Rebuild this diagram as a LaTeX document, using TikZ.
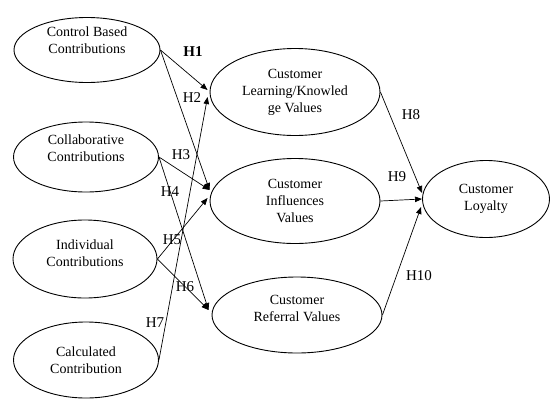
\documentclass[tikz,border=0pt]{standalone}
\usepackage{fontspec}
\setmainfont{Liberation Serif}
\usetikzlibrary{arrows.meta,shapes.geometric,calc}

% text sits a little above the middle of some ellipses
\newcommand{\upby}[2]{\raisebox{#1}[\height][\depth]{\begin{tabular}{@{}c@{}}#2\end{tabular}}}

\begin{document}
\begin{tikzpicture}[x=1pt, y=-1pt, >={Triangle[length=7pt,width=5.5pt]},
  construct/.style={draw, ellipse, line width=0.9pt, inner sep=0pt, align=center,
    font=\fontsize{14}{17}\selectfont},
  hyp/.style={font=\fontsize{15}{18}\selectfont, inner sep=0pt},
  every edge/.style={draw, line width=0.7pt, ->}
]
\useasboundingbox (0,0) rectangle (550,400);

% Antecedents
\node[construct, minimum width=146, minimum height=65] (cbc) at (87,50) {\upby{8pt}{Control Based\\Contributions}};
\node[construct, minimum width=145, minimum height=70] (coc) at (86,157) {\upby{7pt}{Collaborative\\Contributions}};
\node[construct, minimum width=144, minimum height=78] (ind) at (85,259) {\upby{4pt}{Individual\\Contributions}};
\node[construct, minimum width=145, minimum height=76] (cal) at (86,360) {Calculated\\Contribution};

% Value constructs
\node[construct, minimum width=170, minimum height=87] (lkv) at (295,92) {Customer\\Learning/Knowled\\ge Values};
\node[construct, minimum width=170, minimum height=85] (inf) at (295,201) {Customer\\Influences\\Values};
\node[construct, minimum width=170, minimum height=76] (ref) at (297,315) {\upby{5pt}{Customer\\Referral Values}};
\node[construct, minimum width=127, minimum height=77] (loy) at (486,199) {Customer\\Loyalty};

\draw (cbc.east) edge ($(lkv.west)+(-2,-2)$)
      (cbc.east) edge ($(inf.west)+(0,-11)$)
      (coc.east) edge ($(inf.west)+(0,-11)$)
      (coc.east) edge ($(ref.west)+(-3,-5)$)
      (ind.east) edge ($(inf.west)+(-2,-3)$)
      (ind.east) edge ($(ref.west)+(-3,-5)$)
      (cal.east) edge ($(lkv.west)+(-2,5)$);
\draw (lkv.east) edge ($(loy.west)+(0,-6)$)
      (inf.east) edge (loy.west)
      (ref.east) edge ($(loy.west)+(-1,8)$);

% Hypothesis labels
\node[hyp, font=\fontsize{15}{18}\bfseries] (h1) at (193,52) {H1};
\node[hyp] (h2) at (192,98) {H2};
\node[hyp] (h3) at (181,155) {H3};
\node[hyp] (h4) at (170,192) {H4};
\node[hyp] (h5) at (172,240) {H5};
\node[hyp] (h6) at (185,287) {H6};
\node[hyp] (h7) at (155,323) {H7};
\node[hyp] (h8) at (411,115) {H8};
\node[hyp] (h9) at (397,177) {H9};
\node[hyp] (h10) at (419,276) {H10};
\end{tikzpicture}
\end{document}
